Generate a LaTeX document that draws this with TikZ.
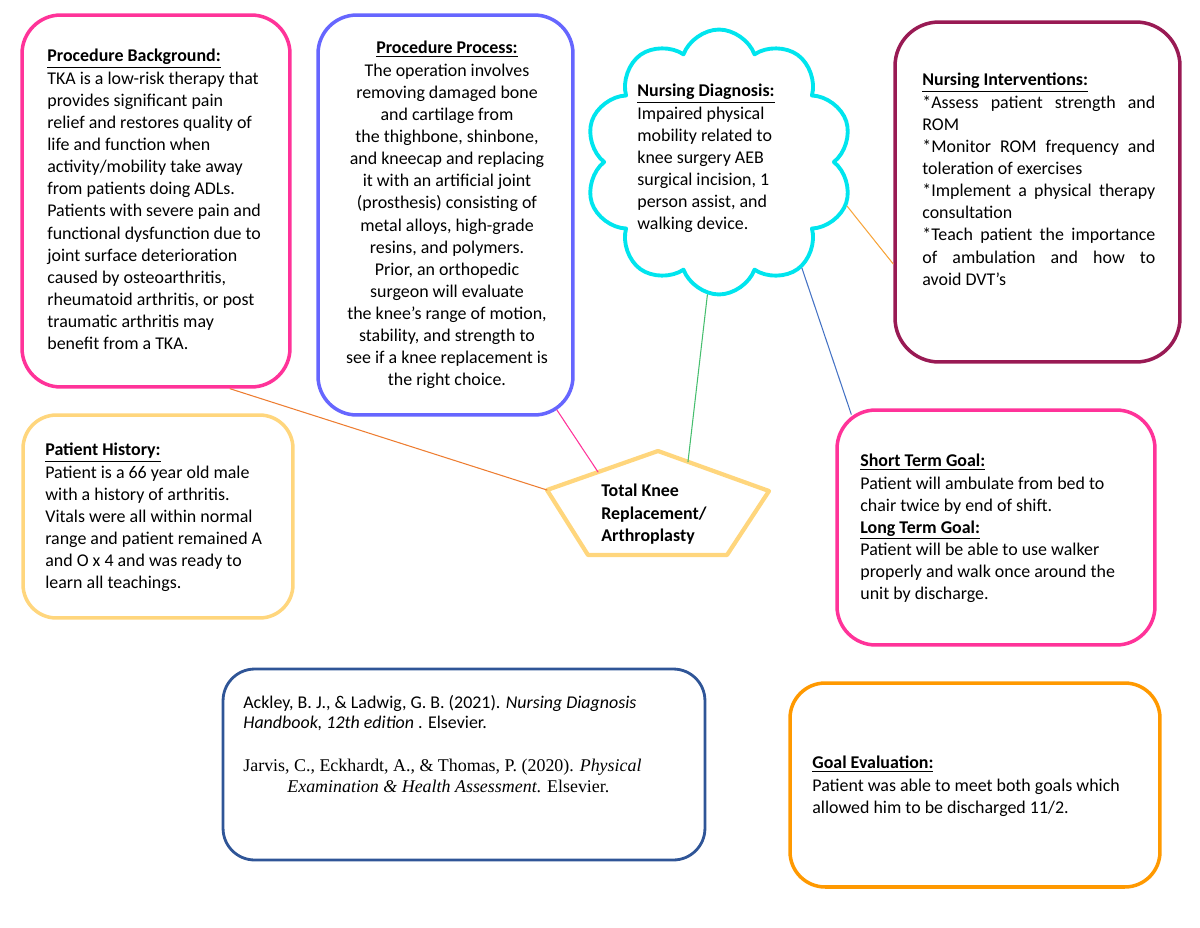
\documentclass[tikz,border=0pt]{standalone}
\usepackage{fontspec}
\setmainfont{Carlito}
\newfontfamily\timesfont{Liberation Serif}
\usetikzlibrary{shapes.symbols,calc}
\setlength\parindent{0pt}
\definecolor{bgpink}{RGB}{255,51,153}
\definecolor{procblue}{RGB}{102,102,255}
\definecolor{diagcyan}{RGB}{0,229,238}
\definecolor{intermaroon}{RGB}{153,26,84}
\definecolor{histyellow}{RGB}{255,214,125}
\definecolor{refblue}{RGB}{47,85,151}
\definecolor{evalorange}{RGB}{255,153,0}
\definecolor{linkorange}{RGB}{237,125,49}
\definecolor{linklight}{RGB}{247,165,60}
\definecolor{linkgreen}{RGB}{70,190,110}
\definecolor{linkblue}{RGB}{68,114,196}
\begin{document}
\begin{tikzpicture}[x=0.02cm, y=-0.02cm, line join=round, line cap=round,
	box/.style={draw, line width=2pt, fill=white, inner sep=0pt, rounded corners=22pt},
	txt/.style={anchor=north west, inner sep=0pt, align=left, font=\fontsize{10.2}{12.6}\selectfont},
	link/.style={line width=0.6pt}]
	\useasboundingbox (0,0) rectangle (1200,927);
	\node[box, draw=bgpink, minimum width=5.36cm, minimum height=7.44cm] (back) at (156,201) {};
	\node[box, draw=procblue, minimum width=5.1cm, minimum height=8cm] (proc) at (445.5,215) {};
	\node[box, draw=intermaroon, minimum width=5.7cm, minimum height=6.8cm, rounded corners=25pt] (inter) at (1037.5,192) {};
	\node[box, draw=histyellow, minimum width=5.4cm, minimum height=4.06cm, rounded corners=19pt] (hist) at (158,516.5) {};
	\node[box, draw=bgpink, minimum width=6.36cm, minimum height=4.7cm] (goal) at (996,527.5) {};
	\node[box, draw=refblue, line width=1.6pt, minimum width=9.64cm, minimum height=3.82cm, rounded corners=18pt] (refs) at (464,764.5) {};
	\node[box, draw=evalorange, minimum width=7.4cm, minimum height=4.08cm, rounded corners=20pt] (eval) at (975,785) {};
	\node[cloud, draw=diagcyan, line width=2.2pt, fill=white, cloud puffs=10, cloud puff arc=140, aspect=1, minimum width=5.35cm, minimum height=5.3cm, inner sep=0pt] (diag) at (719,162) {};
	\coordinate (pt) at (658,451);
	\coordinate (pl) at (547,490);
	\coordinate (pr) at (769,491);
	\coordinate (pbl) at (588,555);
	\coordinate (pbr) at (727,555);
	\draw[histyellow, line width=2.4pt] (pt) -- (pr) -- (pbr) -- (pbl) -- (pl) -- cycle;
	\draw[link, linkorange] ($(back.south)+(74,0)$) -- (pl);
	\draw[link, bgpink] ($(proc.south east)+(-18,-7)$) -- ($(pl)!0.46!(pt)$);
	\draw[link, linkgreen] (diag.-95) -- ($(pt)!0.27!(pr)$);
	\draw[link, linkblue] (diag.-52) -- ($(goal.north west)+(16,6)$);
	\draw[link, linklight] (diag.-19) -- ($(inter.west)+(0,72)$);
	\node[txt] (backtxt) at (47,49) {\underline{\textbf{Procedure Background:}}\\
		TKA is a low-risk therapy that\\ provides significant pain\\ relief and restores quality of\\
		life and function when\\ activity/mobility take away\\ from patients doing ADLs.\\
		Patients with severe pain and\\ functional dysfunction due to\\ joint surface deterioration\\
		caused by osteoarthritis,\\ rheumatoid arthritis, or post\\ traumatic arthritis may\\ benefit from a TKA.};
	\node[txt, anchor=north, align=center] (proctxt) at (447,41) {\underline{\textbf{Procedure Process:}}\\
		The operation involves\\ removing damaged bone\\ and cartilage from\\ the thighbone, shinbone,\\
		and kneecap and replacing\\ it with an artificial joint\\ (prosthesis) consisting of\\
		metal alloys, high-grade\\ resins, and polymers.\\ Prior, an orthopedic\\ surgeon will evaluate\\
		the knee’s range of motion,\\ stability, and strength to\\ see if a knee replacement is\\ the right choice.};
	\node[txt] (diagtxt) at (637,84) {\underline{\textbf{Nursing Diagnosis:}}\\
		Impaired physical\\ mobility related to\\ knee surgery AEB\\ surgical incision, 1\\ person assist, and\\ walking device.};
	\node[txt, text width=4.66cm, align=justify] (intertxt) at (922,73) {\tolerance=10000
		\underline{\textbf{Nursing Interventions:}}\par
		*Assess patient strength and\linebreak ROM\par
		*Monitor ROM frequency and\linebreak toleration of exercises\par
		*Implement a physical therapy\linebreak consultation\par
		*Teach patient the importance\linebreak of ambulation and how to\linebreak avoid DVT’s};
	\node[txt] (histtxt) at (45,443) {\underline{\textbf{Patient History:}}\\
		Patient is a 66 year old male\\ with a history of arthritis.\\ Vitals were all within normal\\
		range and patient remained A\\ and O x 4 and was ready to\\ learn all teachings.};
	\node[txt, font=\bfseries\fontsize{10.2}{12.7}\selectfont] (kneetxt) at (601,484) {Total Knee\\ Replacement/\\ Arthroplasty};
	\node[txt] (goaltxt) at (860,454) {\underline{\textbf{Short Term Goal:}}\\
		Patient will ambulate from bed to\\ chair twice by end of shift.\\
		\underline{\textbf{Long Term Goal:}}\\
		Patient will be able to use walker\\ properly and walk once around the\\ unit by discharge.};
	\node[txt] (evaltxt) at (812,756) {\underline{\textbf{Goal Evaluation:}}\\
		Patient was able to meet both goals which\\ allowed him to be discharged 11/2.};
	\node[txt, font=\fontsize{10.2}{11.4}\selectfont] (ackley) at (243,695) {Ackley, B. J., \& Ladwig, G. B. (2021). \textit{Nursing Diagnosis}\\
		\textit{Handbook, 12th edition} . Elsevier.};
	\node[txt, font=\timesfont\fontsize{10.2}{11.9}\selectfont] (jarvis) at (243,759) {Jarvis, C., Eckhardt, A., \& Thomas, P. (2020). \textit{Physical}\\
		\hspace*{0.88cm}\textit{Examination \& Health Assessment}. Elsevier.};
\end{tikzpicture}
\end{document}
